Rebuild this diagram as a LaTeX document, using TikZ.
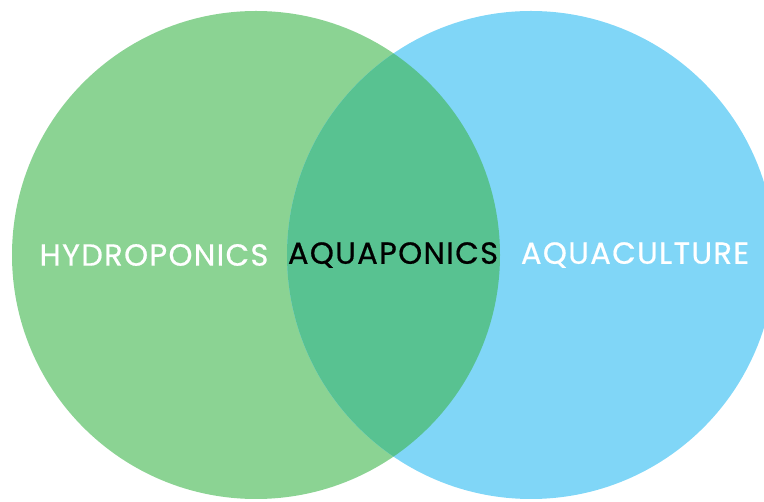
\documentclass[tikz,border=0pt]{standalone}
\usepackage{fontspec}
\setmainfont{Poppins}[LetterSpace=4.5, FakeBold=0.6]
\definecolor{hydro}{HTML}{8BD393}
\definecolor{aqua}{HTML}{80D6F7}
\definecolor{both}{HTML}{58C291}
\begin{document}
\begin{tikzpicture}[x=1pt,y=-1pt,
  label/.style={font=\fontsize{30.5}{36}\selectfont, inner sep=0pt, anchor=center}]
\useasboundingbox (0,0) rectangle (764,502);
\clip (0,0) rectangle (764,502);
\fill[hydro] (256,255) circle (244);
\fill[aqua] (531,255) circle (244);
\begin{scope}
\clip (256,255) circle (244);
\fill[both] (531,255) circle (244);
\end{scope}
\node[label, text=white] (h) at (154,255) {HYDROPONICS};
\node[label, text=black] (p) at (393,255) {AQUAPONICS};
\node[label, text=white] (c) at (635,255) {AQUACULTURE};
\end{tikzpicture}
\end{document}
